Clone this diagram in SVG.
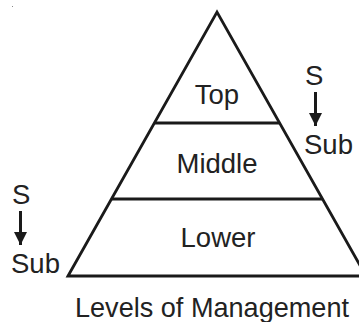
<svg xmlns="http://www.w3.org/2000/svg" width="359" height="322" viewBox="0 0 359 322">
  <style>
    .lbl { font-family: "Liberation Sans", Arial, sans-serif; font-size: 27.5px; fill: #222; }
    .mid { text-anchor: middle; }
    .edge { stroke: #1a1a1a; stroke-width: 2.8; fill: none; }
  </style>
  <defs>
    <marker id="head" viewBox="0 0 10 10" refX="10" refY="5" markerWidth="4.4" markerHeight="5" markerUnits="strokeWidth" orient="auto">
      <path d="M0,0 L10,5 L0,10 Z" fill="#1a1a1a"/>
    </marker>
  </defs>
  <rect width="359" height="322" fill="#fff"/>
  <!-- stray dot in the corner -->
  <rect x="12" y="6" width="1" height="1" fill="#888"/>

  <!-- pyramid outline and tier dividers -->
  <g id="pyramid">
    <path class="edge" d="M68,276 L217,12 L366,276 Z" stroke-linejoin="miter"/>
  </g>
  <g id="tier-top">
    <text class="lbl mid" x="217" y="104">Top</text>
  </g>
  <g id="tier-middle">
    <line class="edge" x1="154" y1="123" x2="280" y2="123"/>
    <text class="lbl mid" x="217" y="173">Middle</text>
  </g>
  <g id="tier-lower">
    <line class="edge" x1="112" y1="199" x2="322" y2="199"/>
    <text class="lbl mid" x="218" y="247">Lower</text>
  </g>

  <!-- superior / subordinate labels -->
  <g id="right-sup">
    <text class="lbl" x="305" y="85">S</text>
  </g>
  <g id="right-sub">
    <text class="lbl" x="304" y="154">Sub</text>
  </g>
  <g id="left-sup">
    <text class="lbl" x="12" y="204">S</text>
  </g>
  <g id="left-sub">
    <text class="lbl" x="11" y="273">Sub</text>
  </g>

  <g id="connectors">
    <line x1="315.5" y1="92" x2="315.5" y2="126" stroke="#1a1a1a" stroke-width="3" marker-end="url(#head)"/>
    <line x1="20.5" y1="211" x2="20.5" y2="245" stroke="#1a1a1a" stroke-width="3" marker-end="url(#head)"/>
  </g>

  <g id="caption">
    <text class="lbl" x="75" y="317" textLength="274" lengthAdjust="spacingAndGlyphs">Levels of Management</text>
  </g>
</svg>
